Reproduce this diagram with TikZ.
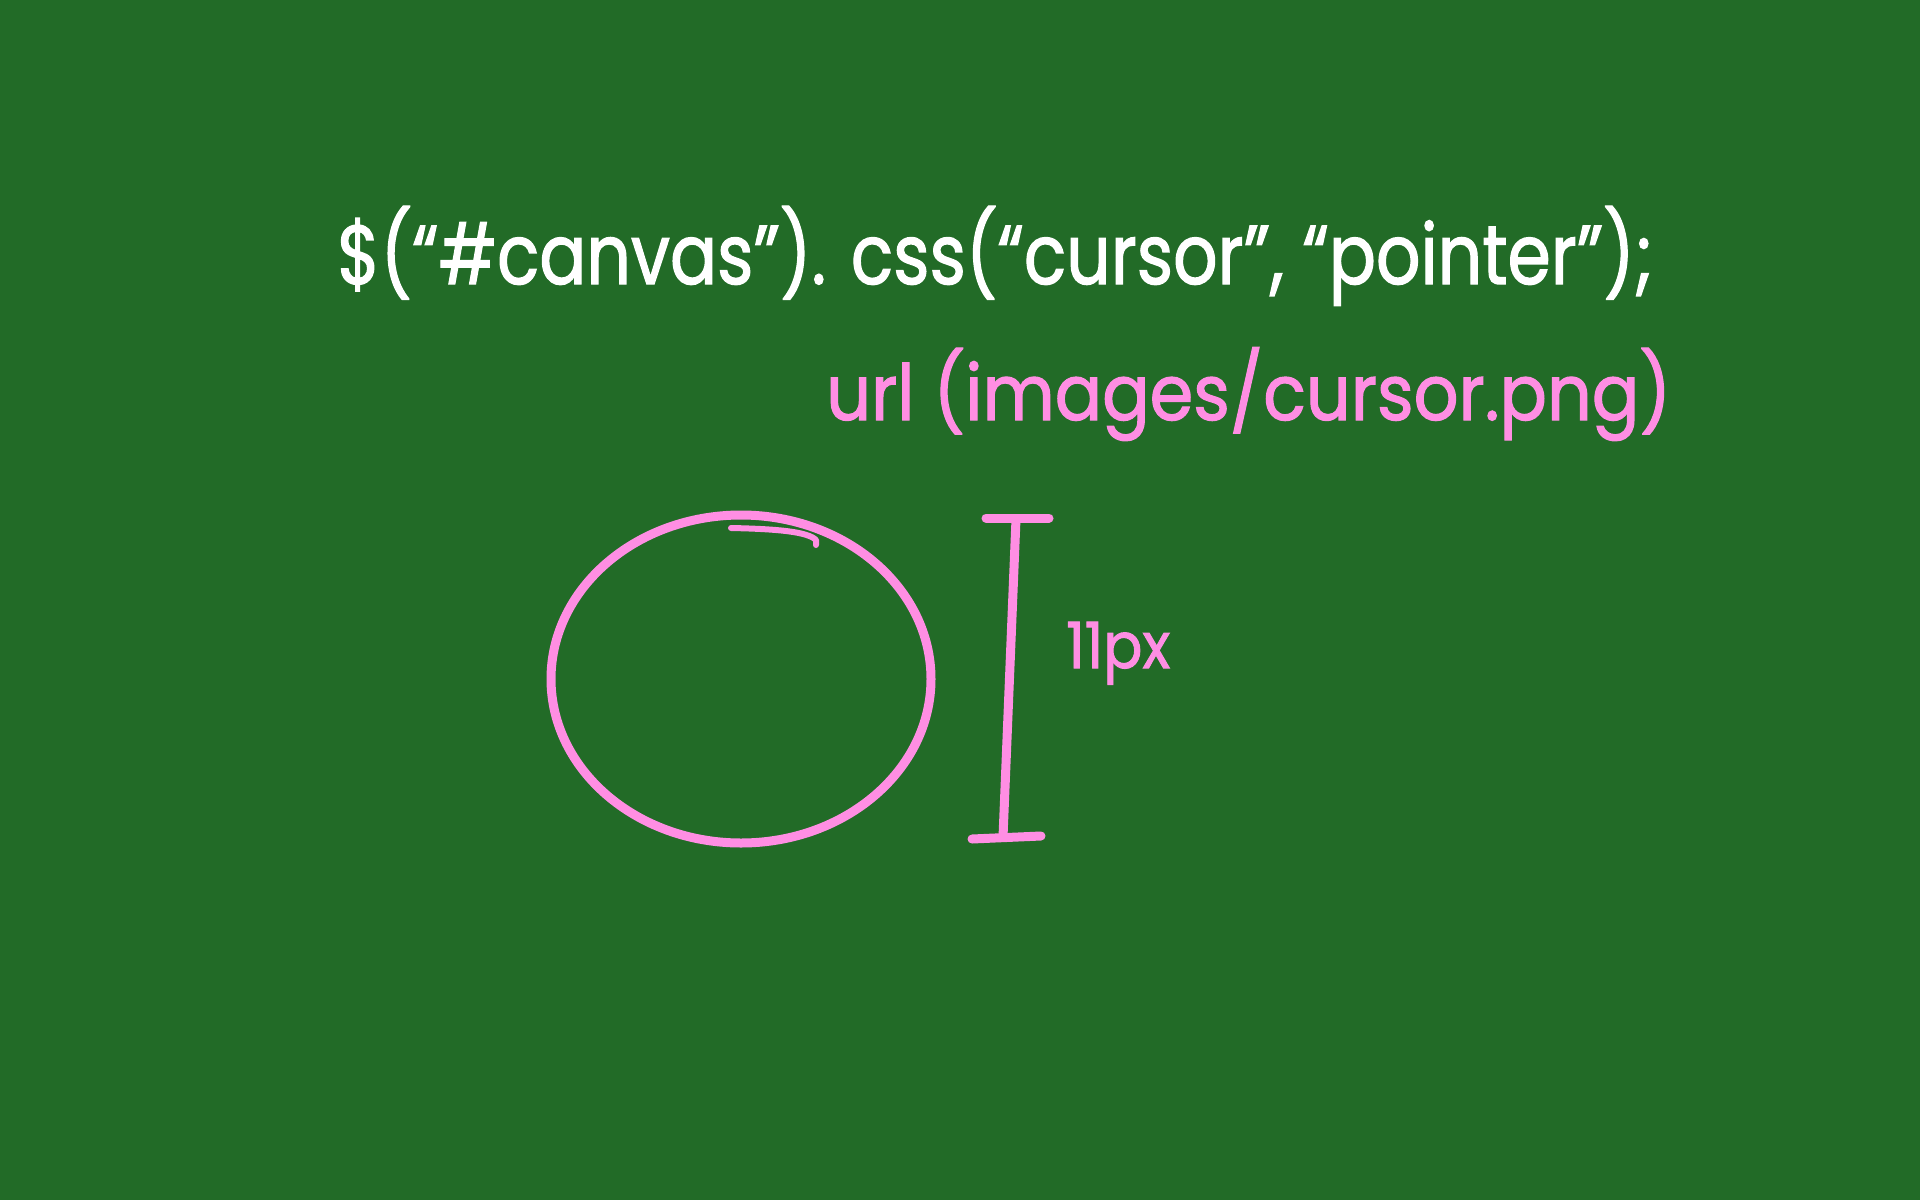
\documentclass[tikz,border=0pt]{standalone}
\usepackage{fontspec}
\setmainfont{Poppins}
\newfontfamily\chalk{Poppins}[FakeBold=1.6]
\usepackage{graphicx}
\usetikzlibrary{shapes.geometric}
\definecolor{board}{HTML}{226B27}
\definecolor{chalkpink}{HTML}{FF8EE3}
\begin{document}
\begin{tikzpicture}[x=1pt,y=-1pt,
  pinkline/.style={draw=chalkpink,line width=9pt,line cap=round,line join=round},
  codetxt/.style={inner sep=0pt,anchor=base west}]
\fill[board] (0,0) rectangle (1920,1200);
\useasboundingbox (0,0) rectangle (1920,1200);
% code line
\node[codetxt,text=white] (code) at (337,284)
  {\scalebox{1}[1.2]{\resizebox{1316pt}{!}{\fontsize{80}{90}\chalk \$(“\#canvas”). css(“cursor”, “pointer”);}}};
\node[codetxt,text=chalkpink] (url) at (826,420)
  {\scalebox{1}[1.1]{\resizebox{845pt}{!}{\fontsize{80}{90}\chalk url (images/cursor.png)}}};
% circle cursor
\node[pinkline,ellipse,minimum width=380pt,minimum height=328pt,inner sep=0pt] (circ) at (741,679) {};
\coordinate (o1) at (731,528);
\coordinate (o2) at (816,540);
\draw[pinkline,line width=6pt] (o1) .. controls (780,529) and (808,532) .. (o2) -- ++(0,5);
% I-beam
\coordinate (ibt) at (1016,519);
\coordinate (ibb) at (1003,837);
\coordinate (tl) at (986,518);
\coordinate (tr) at (1049,518);
\coordinate (bl) at (972,839);
\coordinate (br) at (1041,836);
\draw[pinkline] (ibt) -- (ibb);
\draw[pinkline] (tl) -- (tr);
\draw[pinkline] (bl) -- (br);
\node[codetxt,text=chalkpink] (px) at (1066,668)
  {\scalebox{1}[1.1]{\resizebox{104pt}{!}{\fontsize{50}{60}\chalk 11px}}};
\end{tikzpicture}
\end{document}
